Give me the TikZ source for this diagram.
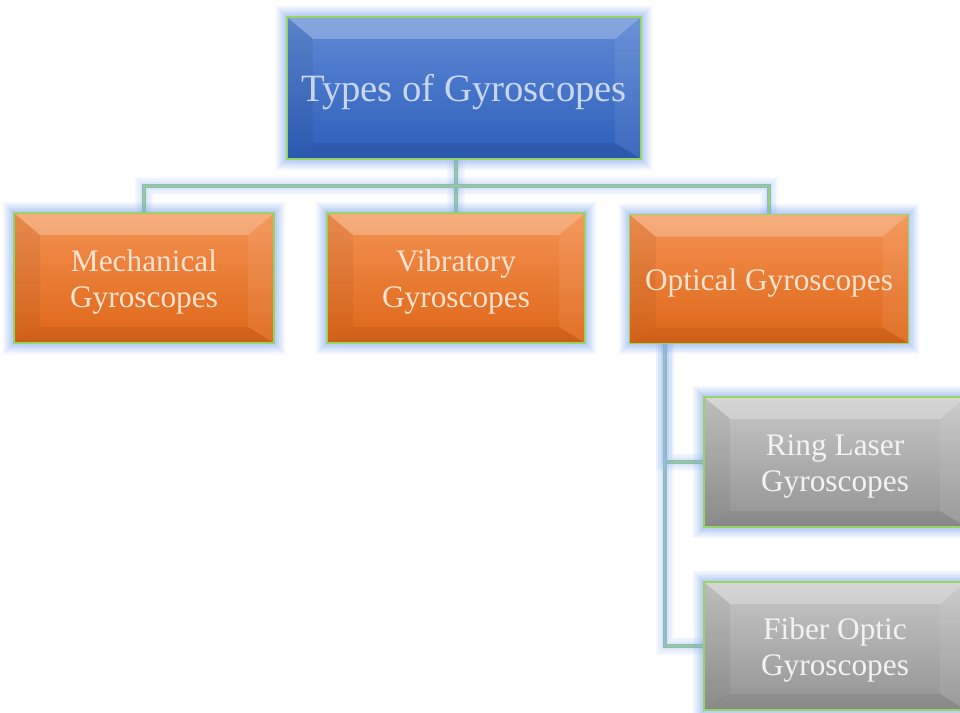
\documentclass[tikz,border=0pt]{standalone}
\usepackage{fontspec}
\setmainfont{Liberation Serif}
\usetikzlibrary{calc}

\definecolor{glowblue}{RGB}{130,168,236}
\definecolor{edgegreen}{RGB}{150,212,100}
\definecolor{linkblue}{RGB}{140,177,238}
\definecolor{blueTop}{RGB}{96,138,214}
\definecolor{blueBot}{RGB}{44,94,186}
\definecolor{orangeTop}{RGB}{244,146,82}
\definecolor{orangeBot}{RGB}{222,102,24}
\definecolor{grayTop}{RGB}{200,200,200}
\definecolor{grayBot}{RGB}{146,146,146}
\definecolor{blueText}{RGB}{202,214,238}
\definecolor{orangeText}{RGB}{253,226,206}
\definecolor{grayText}{RGB}{243,243,243}

% one pixel of the 960 x 713 canvas
\newcommand{\pxu}{0.75pt}
% strut that lowers a label a little
\newcommand{\lowline}{\rule{0pt}{22pt}}

\tikzset{
  glow/.style={
    preaction={draw=glowblue, draw opacity=0.05, line width=16pt},
    preaction={draw=glowblue, draw opacity=0.06, line width=13pt},
    preaction={draw=glowblue, draw opacity=0.07, line width=10pt},
    preaction={draw=glowblue, draw opacity=0.08, line width=7pt},
    preaction={draw=glowblue, draw opacity=0.10, line width=4pt}},
  bevel/.style={path picture={
    \coordinate (nw) at (path picture bounding box.north west);
    \coordinate (ne) at (path picture bounding box.north east);
    \coordinate (sw) at (path picture bounding box.south west);
    \coordinate (se) at (path picture bounding box.south east);
    \fill[white, opacity=0.25] (nw) -- (ne) -- ([shift={(-26,22)}]ne) -- ([shift={(26,22)}]nw) -- cycle;
    \fill[black, opacity=0.05] (nw) -- ([shift={(26,22)}]nw) -- ([shift={(26,-16)}]sw) -- (sw) -- cycle;
    \fill[white, opacity=0.07] (ne) -- ([shift={(-26,22)}]ne) -- ([shift={(-26,-16)}]se) -- (se) -- cycle;
    \fill[black, opacity=0.07] (sw) -- ([shift={(26,-16)}]sw) -- ([shift={(-26,-16)}]se) -- (se) -- cycle;
  }},
  gbox/.style={glow, bevel, draw=edgegreen, line width=1pt, align=center,
    inner sep=0pt, font=\fontsize{23.5}{27}\selectfont},
  topbox/.style={gbox, top color=blueTop, bottom color=blueBot, text=blueText,
    font=\fontsize{29}{34}\selectfont},
  kindbox/.style={gbox, top color=orangeTop, bottom color=orangeBot, text=orangeText},
  subbox/.style={gbox, top color=grayTop, bottom color=grayBot, text=grayText},
  boxsize/.style 2 args={minimum width=#1*\pxu, minimum height=#2*\pxu},
  link/.style={
    preaction={draw=glowblue, draw opacity=0.08, line width=14pt},
    preaction={draw=glowblue, draw opacity=0.10, line width=10pt},
    preaction={draw=glowblue, draw opacity=0.14, line width=6pt},
    preaction={draw=linkblue, line width=3pt},
    draw=edgegreen, line width=0.9pt}
}

\begin{document}
\begin{tikzpicture}[x=\pxu, y=-\pxu]
  \useasboundingbox (0,0) rectangle (960,713);

  % Top level
  \node[topbox, boxsize={354}{142}] (types) at (464,88) {\rule{0pt}{26pt}Types of Gyroscopes};

  % Three kinds
  \node[kindbox, boxsize={260}{130}] (mech) at (144,278) {\lowline Mechanical\\Gyroscopes};
  \node[kindbox, boxsize={258}{130}] (vib) at (456,278) {\lowline Vibratory\\Gyroscopes};
  \node[kindbox, boxsize={279}{129}] (opt) at (769,279) {\lowline Optical Gyroscopes};

  % Optical sub-types
  \node[subbox, boxsize={262}{130}] (ring) at (835,462) {\lowline Ring Laser\\Gyroscopes};
  \node[subbox, boxsize={262}{128}] (fiber) at (835,646) {\lowline Fiber Optic\\Gyroscopes};

  % Bus and trunk points
  \coordinate (bus) at (456,186);
  \coordinate (trunk) at ([shift={(36,0)}]opt.south west);

  % Connectors
  \draw[link] (types.south -| vib.north) -- (vib.north);
  \draw[link] (mech.north) |- (bus) -| (opt.north);
  \draw[link] (trunk) |- (ring.west);
  \draw[link] (trunk) |- (fiber.west);

  % Boxes again over the connectors
  \node[topbox, boxsize={354}{142}] at (types) {\rule{0pt}{26pt}Types of Gyroscopes};
  \node[kindbox, boxsize={260}{130}] at (mech) {\lowline Mechanical\\Gyroscopes};
  \node[kindbox, boxsize={258}{130}] at (vib) {\lowline Vibratory\\Gyroscopes};
  \node[kindbox, boxsize={279}{129}] at (opt) {\lowline Optical Gyroscopes};
  \node[subbox, boxsize={262}{130}] at (ring) {\lowline Ring Laser\\Gyroscopes};
  \node[subbox, boxsize={262}{128}] at (fiber) {\lowline Fiber Optic\\Gyroscopes};
\end{tikzpicture}
\end{document}
